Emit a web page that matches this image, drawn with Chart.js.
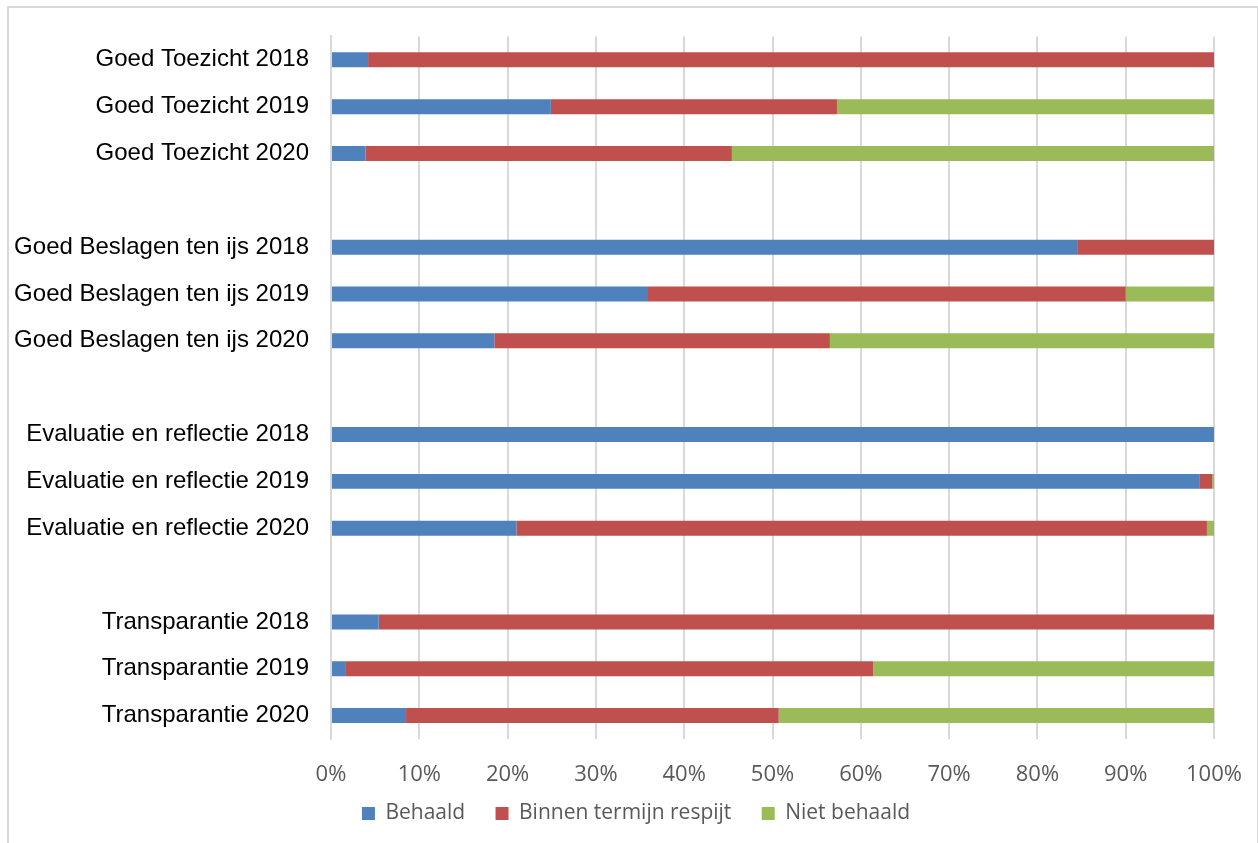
<!DOCTYPE html>
<html>
<head>
<meta charset="utf-8">
<script src="https://cdn.jsdelivr.net/npm/chart.js@4/dist/chart.umd.min.js"></script>
<style>
  html,body{margin:0;padding:0;background:#fff;overflow:hidden}
  #wrap{position:absolute;left:0;top:0;width:1258px;height:843px}
  #frame{position:absolute;left:7px;top:6px;width:1248px;height:860px;border:2px solid #d9d9d9;pointer-events:none}
</style>
</head>
<body>
<div id="wrap"><canvas id="c" width="1258" height="843"></canvas></div>
<div id="frame"></div>
<script>
// row labels, '' = empty spacer row between groups
const labels = [
  'Goed Toezicht 2018','Goed Toezicht 2019','Goed Toezicht 2020','',
  'Goed Beslagen ten ijs 2018','Goed Beslagen ten ijs 2019','Goed Beslagen ten ijs 2020','',
  'Evaluatie en reflectie 2018','Evaluatie en reflectie 2019','Evaluatie en reflectie 2020','',
  'Transparantie 2018','Transparantie 2019','Transparantie 2020'
];
const behaald =   [4.2, 24.9, 3.9, null, 84.5, 35.9, 18.5, null, 100, 98.4, 21.0, null, 5.4, 1.6, 8.5];
const binnen =    [95.8, 32.4, 41.5, null, 15.5, 54.1, 38.0, null, 0, 1.4, 78.2, null, 94.6, 59.8, 42.2];
const nietBehaald=[0, 42.7, 54.6, null, 0, 10.0, 43.5, null, 0, 0.2, 0.8, null, 0, 38.6, 49.3];
const seriesNames = ['Behaald','Binnen termijn respijt','Niet behaald'];
const colors = ['#4F81BD','#C0504D','#9BBB59'];
const xTicks = [0,10,20,30,40,50,60,70,80,90,100];

const ds = [behaald, binnen, nietBehaald].map((d,i)=>({
  label: seriesNames[i], data: d, backgroundColor: colors[i],
  borderWidth: 0, barPercentage: 1, categoryPercentage: 0.32
}));

// legend sits a bit right of the canvas centre, like the original
const shiftLegend = {
  id: 'shiftLegend',
  afterLayout(ch){ if(ch.legend){ ch.legend.left += 29; ch.legend.right += 29; } }
};

new Chart(document.getElementById('c'), {
  type: 'bar',
  data: { labels, datasets: ds },
  plugins: [shiftLegend],
  options: {
    indexAxis: 'y',
    responsive: false,
    animation: false,
    layout: { padding: { top: 34, right: 44, left: 0, bottom: 9 } },
    plugins: {
      tooltip: { enabled: false },
      legend: {
        position: 'bottom',
        labels: {
          boxWidth: 13, boxHeight: 13, padding: 14, color: '#595959',
          font: { family: 'Open Sans', size: 21 },
          // trailing spaces widen the gap between items
          generateLabels: ch => Chart.defaults.plugins.legend.labels.generateLabels(ch)
            .map((l,i,a)=>(i<a.length-1 ? {...l, text: l.text + '   '} : l))
        }
      }
    },
    scales: {
      x: {
        stacked: true, min: 0, max: 100,
        afterBuildTicks: s => { s.ticks = xTicks.map(v=>({value:v})); },
        afterFit: s => { s.height = 50; s.paddingLeft = 0; s.paddingRight = 0; },
        ticks: { color: '#595959', font: { family: 'Open Sans', size: 22 }, padding: 23,
          callback: v => v + '%' },
        grid: { color: '#d9d9d9', lineWidth: 2, drawTicks: false },
        border: { display: false }
      },
      y: {
        stacked: true,
        afterFit: s => { s.width = 331; },
        ticks: { color: '#000', font: { family: 'Liberation Sans', size: 24 }, padding: 22, autoSkip: false },
        grid: { display: false, drawTicks: false },
        border: { color: '#d9d9d9', width: 2 }
      }
    }
  }
});
</script>
</body>
</html>
